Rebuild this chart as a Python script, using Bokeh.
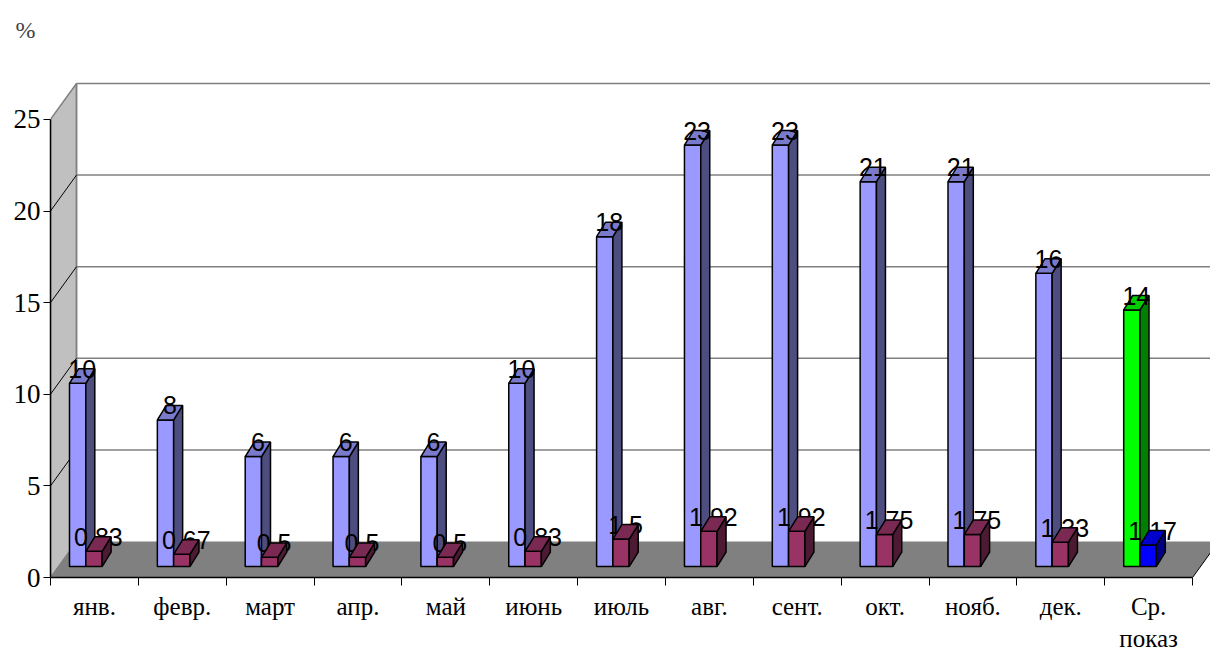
from bokeh.plotting import figure
from bokeh.models import FixedTicker, Range1d
from bokeh.core.properties import value
from bokeh.embed import file_html
from bokeh.resources import INLINE

# ---------------- data ----------------
categories = ["янв.", "февр.", "март", "апр.", "май", "июнь", "июль",
              "авг.", "сент.", "окт.", "нояб.", "дек.", "Ср.\nпоказ"]
series1 = [10, 8, 6, 6, 6, 10, 18, 23, 23, 21, 21, 16, 14]
series2 = [0.83, 0.67, 0.5, 0.5, 0.5, 0.83, 1.5, 1.92, 1.92, 1.75, 1.75, 1.33, 1.17]
y_ticks = [0, 5, 10, 15, 20, 25]

# ---------------- styles ----------------
S1_COL = ("#9999FF", "#4D4D80", "#7A7ACC")
S2_COL = ("#993366", "#4D1A33", "#7A2952")
AVG1_COL = ("#00FF00", "#008000", "#00CC00")
AVG2_COL = ("#0000FF", "#000080", "#0000CC")

W, H = 1210, 655
LEFT, BOTTOM, TOP = 50, 78, 55
PX_X = 87.85   # pixels per category
PX_Y = 18.36   # pixels per unit
x_end = (W - LEFT) / PX_X
y_end = (H - BOTTOM - TOP) / PX_Y
ymax = y_ticks[-1]
ncat = len(categories)

off = 19.0 / PX_X
bw = 16.3 / PX_X
ddx = 9.0 / PX_X
ddy = 14.5 / PX_Y
base = 11.0 / PX_Y
fdx = 26.0 / PX_X
fdy = 36.0 / PX_Y

p = figure(width=W, height=H, x_range=Range1d(0, x_end), y_range=Range1d(0, y_end),
           output_backend="svg", toolbar_location=None,
           min_border_left=LEFT, min_border_right=0, min_border_top=TOP,
           min_border_bottom=BOTTOM)
p.outline_line_color = None
p.grid.visible = False
p.background_fill_color = "white"

# side wall
p.patch([0, fdx, fdx, 0], [0, fdy, ymax + fdy, ymax], fill_color="#C0C0C0",
        line_color="#808080", line_width=1.5)
# floor
p.patch([0, ncat, ncat + fdx, fdx], [0, 0, fdy, fdy], fill_color="#808080",
        line_color=None)
p.line([ncat, ncat + fdx], [0, fdy], line_color="black", line_width=1)
# back wall gridlines
for t in y_ticks[1:]:
    p.line([fdx, ncat + fdx], [t + fdy, t + fdy], line_color="#808080", line_width=1.5)
# back wall left edge
p.line([fdx, fdx], [fdy, ymax + fdy], line_color="#808080", line_width=1.5)
# side wall diagonals
for t in y_ticks[1:-1]:
    p.line([0, fdx], [t, t + fdy], line_color="black", line_width=1)


def box(x0, w, y0, h):
    front = ([x0, x0 + w, x0 + w, x0], [y0, y0, y0 + h, y0 + h])
    side = ([x0 + w, x0 + w + ddx, x0 + w + ddx, x0 + w],
            [y0, y0 + ddy, y0 + h + ddy, y0 + h])
    top = ([x0, x0 + w, x0 + w + ddx, x0 + ddx],
           [y0 + h, y0 + h, y0 + h + ddy, y0 + h + ddy])
    return front, side, top


def draw_boxes(xs0, vals, cols):
    pxs, pys, fc = [], [], []
    for x0, v, c in zip(xs0, vals, cols):
        for poly, col in zip(box(x0, bw, base, v), c):
            pxs.append(poly[0]); pys.append(poly[1]); fc.append(col)
    p.patches(pxs, pys, fill_color=fc, line_color="black", line_width=1.5)


def fmt(v):
    return f"{v:g}".replace(".", ",")


x1 = [i + off for i in range(ncat)]
x2 = [i + off + bw for i in range(ncat)]
c1 = [S1_COL] * (ncat - 1) + [AVG1_COL]
c2 = [S2_COL] * (ncat - 1) + [AVG2_COL]

draw_boxes(x1, series1, c1)

lab_font = value("Liberation Sans")
p.text([x + bw / 2 + ddx / 2 for x in x1], [base + v + ddy for v in series1],
       text=[fmt(v) for v in series1], text_align="center", text_baseline="middle",
       text_font=lab_font, text_font_size="25px", text_color="black")
p.text([x + bw / 2 + ddx / 2 for x in x2], [base + v + ddy for v in series2],
       text=[fmt(v) for v in series2], text_align="center", text_baseline="middle",
       text_font=lab_font, text_font_size="25px", text_color="black")

draw_boxes(x2, series2, c2)

# ---------------- axes ----------------
serif = "Liberation Serif"
ya = p.yaxis[0]
ya.ticker = FixedTicker(ticks=y_ticks, minor_ticks=[])
ya.bounds = (0, ymax)
ya.axis_line_color = "black"
ya.axis_line_width = 1.5
ya.major_tick_in = 0
ya.major_tick_out = 7
ya.major_tick_line_color = "black"
ya.major_label_standoff = 3
ya.major_label_text_font = serif
ya.major_label_text_font_size = "27px"
ya.major_label_text_color = "black"

xa = p.xaxis[0]
centers = [i + 0.5 for i in range(ncat)]
xa.ticker = FixedTicker(ticks=centers, minor_ticks=list(range(ncat + 1)))
xa.bounds = (0, ncat)
xa.axis_line_color = "black"
xa.axis_line_width = 1.5
xa.major_tick_line_color = None
xa.major_tick_in = 0
xa.major_tick_out = 8
xa.minor_tick_in = 0
xa.minor_tick_out = 8
xa.minor_tick_line_color = "black"
xa.major_label_standoff = 7
xa.major_label_overrides = {c: lab for c, lab in zip(centers, categories)}
xa.major_label_text_font = serif
xa.major_label_text_font_size = "25px"
xa.major_label_text_color = "black"

p.title.text = "%"
p.title.text_font = serif
p.title.text_font_size = "24px"
p.title.text_font_style = "normal"
p.title.align = "left"
p.title.offset = -35
p.title.standoff = 28

open("out.html", "w").write(file_html(p, INLINE))
